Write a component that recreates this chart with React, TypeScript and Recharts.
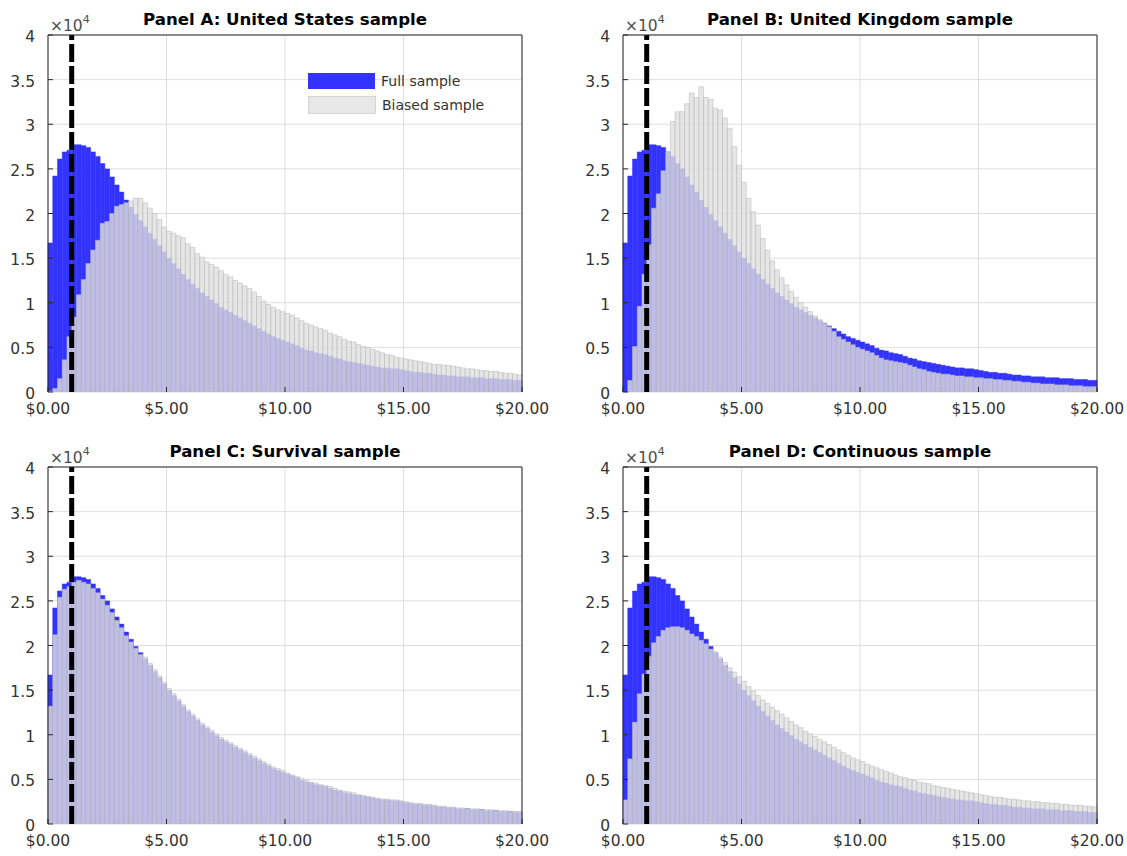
import React from "react";
import { BarChart, Bar, XAxis, YAxis, CartesianGrid, ReferenceLine } from "recharts";

// Histogram counts, in units of 10^4 (the axis multiplier drawn top-left).
// 100 bins of $0.20 from $0.00 to $20.00.
const BIN_COUNT = 100;
const BIN_WIDTH = 0.2;
const BIN_START = Array.from({ length: BIN_COUNT }, (_, i) => Number((i * BIN_WIDTH).toFixed(1)));

const FULL_SAMPLE = [
  1.67, 2.42, 2.61, 2.69, 2.71, 2.77, 2.77, 2.76, 2.74, 2.69,
  2.64, 2.56, 2.5, 2.41, 2.32, 2.24, 2.15, 2.07, 1.99, 1.92,
  1.85, 1.78, 1.71, 1.64, 1.57, 1.5, 1.44, 1.38, 1.32, 1.26,
  1.21, 1.16, 1.11, 1.07, 1.03, 0.99, 0.95, 0.92, 0.89, 0.86,
  0.83, 0.8, 0.77, 0.74, 0.71, 0.68, 0.65, 0.62, 0.6, 0.58,
  0.56, 0.54, 0.52, 0.49, 0.47, 0.46, 0.44, 0.43, 0.42, 0.4,
  0.38, 0.37, 0.35, 0.34, 0.33, 0.32, 0.31, 0.3, 0.29, 0.28,
  0.27, 0.27, 0.26, 0.26, 0.25, 0.24, 0.23, 0.22, 0.22, 0.21,
  0.21, 0.2, 0.19, 0.19, 0.18, 0.18, 0.17, 0.17, 0.17, 0.16,
  0.16, 0.16, 0.15, 0.15, 0.15, 0.14, 0.14, 0.14, 0.13, 0.13,
];

const BIASED_US = [
  0.01, 0.04, 0.15, 0.36, 0.62, 0.84, 1.09, 1.26, 1.44, 1.59,
  1.7, 1.89, 1.91, 2.0, 2.08, 2.1, 2.12, 2.14, 2.17, 2.17,
  2.12, 2.06, 2.0, 1.93, 1.85, 1.8, 1.78, 1.75, 1.73, 1.66,
  1.62, 1.55, 1.51, 1.46, 1.43, 1.4, 1.36, 1.32, 1.29, 1.25,
  1.22, 1.19, 1.16, 1.12, 1.07, 1.02, 0.98, 0.95, 0.92, 0.9,
  0.88, 0.86, 0.83, 0.8, 0.77, 0.75, 0.73, 0.71, 0.69, 0.66,
  0.64, 0.62, 0.59, 0.57, 0.56, 0.53, 0.51, 0.5, 0.48, 0.46,
  0.44, 0.42, 0.41, 0.39, 0.38, 0.37, 0.36, 0.35, 0.34, 0.33,
  0.32, 0.31, 0.31, 0.3, 0.3, 0.29, 0.28, 0.27, 0.26, 0.26,
  0.25, 0.24, 0.24, 0.23, 0.23, 0.22, 0.21, 0.21, 0.2, 0.19,
];

const BIASED_UK = [
  0.0, 0.13, 0.51, 0.96, 1.32, 1.65, 2.06, 2.22, 2.48, 2.69,
  3.03, 3.14, 3.14, 3.23, 3.35, 3.3, 3.42, 3.3, 3.28, 3.18,
  3.16, 3.07, 2.95, 2.75, 2.54, 2.35, 2.17, 2.02, 1.87, 1.72,
  1.59, 1.47, 1.37, 1.28, 1.2, 1.13, 1.06, 1.0, 0.95, 0.9,
  0.85, 0.81, 0.77, 0.73, 0.68, 0.62, 0.59, 0.56, 0.53, 0.5,
  0.48, 0.46, 0.44, 0.41, 0.38, 0.36, 0.35, 0.34, 0.33, 0.32,
  0.3, 0.28, 0.26, 0.25, 0.23, 0.22, 0.21, 0.2, 0.2, 0.19,
  0.18, 0.18, 0.17, 0.17, 0.16, 0.16, 0.15, 0.15, 0.14, 0.14,
  0.13, 0.13, 0.12, 0.12, 0.11, 0.11, 0.1, 0.1, 0.09, 0.09,
  0.09, 0.08, 0.08, 0.08, 0.07, 0.07, 0.07, 0.06, 0.06, 0.06,
];

const BIASED_SURVIVAL = [
  1.32, 2.12, 2.54, 2.63, 2.66, 2.71, 2.73, 2.71, 2.69, 2.64,
  2.59, 2.52, 2.45, 2.37, 2.28, 2.2, 2.11, 2.04, 1.97, 1.9,
  1.87, 1.8, 1.73, 1.66, 1.59, 1.52, 1.46, 1.4, 1.34, 1.28,
  1.23, 1.18, 1.13, 1.09, 1.05, 1.01, 0.97, 0.94, 0.91, 0.88,
  0.85, 0.82, 0.79, 0.76, 0.73, 0.7, 0.67, 0.64, 0.62, 0.6,
  0.57, 0.55, 0.53, 0.51, 0.49, 0.47, 0.46, 0.44, 0.43, 0.42,
  0.4, 0.38, 0.37, 0.36, 0.35, 0.33, 0.32, 0.31, 0.3, 0.29,
  0.28, 0.28, 0.27, 0.27, 0.26, 0.25, 0.24, 0.23, 0.23, 0.22,
  0.22, 0.21, 0.2, 0.2, 0.19, 0.19, 0.18, 0.18, 0.17, 0.17,
  0.17, 0.16, 0.16, 0.16, 0.15, 0.15, 0.15, 0.14, 0.14, 0.14,
];

const BIASED_CONTINUOUS = [
  0.27, 0.73, 1.14, 1.46, 1.68, 1.88, 2.03, 2.1, 2.17, 2.2,
  2.21, 2.21, 2.2, 2.17, 2.13, 2.1, 2.06, 2.02, 1.96, 1.93,
  1.87, 1.81, 1.75, 1.7, 1.65, 1.6, 1.54, 1.49, 1.44, 1.39,
  1.35, 1.31, 1.27, 1.23, 1.19, 1.15, 1.11, 1.08, 1.04, 1.01,
  0.98, 0.95, 0.92, 0.89, 0.86, 0.83, 0.8, 0.77, 0.74, 0.72,
  0.7, 0.67, 0.65, 0.63, 0.61, 0.59, 0.57, 0.55, 0.53, 0.52,
  0.5, 0.49, 0.47, 0.46, 0.45, 0.43, 0.42, 0.41, 0.4, 0.39,
  0.38, 0.37, 0.36, 0.35, 0.34, 0.33, 0.32, 0.31, 0.3, 0.3,
  0.29, 0.28, 0.28, 0.27, 0.26, 0.26, 0.25, 0.25, 0.24, 0.24,
  0.23, 0.23, 0.22, 0.22, 0.21, 0.21, 0.21, 0.2, 0.2, 0.19,
];

const Y_TICKS = [0, 0.5, 1, 1.5, 2, 2.5, 3, 3.5, 4];
const X_TICKS = [0, 5, 10, 15, 20];
const PRICE_LINE = 1;

const FULL_NAME = "Full sample";
const BIASED_NAME = "Biased sample";

const PANELS = [
  { title: "Panel A: United States sample", biased: BIASED_US, legend: true },
  { title: "Panel B: United Kingdom sample", biased: BIASED_UK, legend: false },
  { title: "Panel C: Survival sample", biased: BIASED_SURVIVAL, legend: false },
  { title: "Panel D: Continuous sample", biased: BIASED_CONTINUOUS, legend: false },
];

// layout
const CHART_W = 560;
const CHART_H = 430;
const PLOT_LEFT = 48;
const PLOT_W = 474;
const PLOT_TOP = 35;
const PLOT_H = 357;
const PLOT_BOTTOM = PLOT_TOP + PLOT_H;
const COL_STEP = 575;
const ROW_STEP = 432;

const FONT = "'DejaVu Sans', sans-serif";
const AXIS = "#262626";
const TEXT = "#333333";
const GRID = "#dedede";
const BLUE = "#3333ff";
const GRAY = "#e0e0e0";
const EDGE = "#b4b4b4";

function YTick({ y, payload }: any) {
  return (
    <g>
      <line x1={PLOT_LEFT} x2={PLOT_LEFT + 5} y1={y} y2={y} stroke={AXIS} />
      <text x={PLOT_LEFT - 13} y={y + 7} textAnchor="end" fontSize={15.5} fontFamily={FONT} fill={TEXT}>
        {String(payload.value)}
      </text>
    </g>
  );
}

function XTick({ x, payload }: any) {
  return (
    <g>
      <line x1={x} x2={x} y1={PLOT_BOTTOM} y2={PLOT_BOTTOM - 5} stroke={AXIS} />
      <text x={x} y={PLOT_BOTTOM + 21.5} textAnchor="middle" fontSize={15.5} fontFamily={FONT} fill={TEXT}>
        {"$" + Number(payload.value).toFixed(2)}
      </text>
    </g>
  );
}

function Panel({ title, biased, legend, left, top }: any) {
  const rows = BIN_START.map((b, i) => ({ bin: b, full: FULL_SAMPLE[i], biased: biased[i] }));
  return (
    <div style={{ position: "absolute", left, top, width: CHART_W, height: CHART_H }}>
      <BarChart
        width={CHART_W}
        height={CHART_H}
        data={rows}
        margin={{ top: PLOT_TOP, right: CHART_W - PLOT_LEFT - PLOT_W, bottom: CHART_H - PLOT_BOTTOM - 30, left: 0 }}
        barCategoryGap={0}
        barGap={0}
      >
        <CartesianGrid xAxisId="num" yAxisId="left" stroke={GRID} />
        <XAxis xAxisId="full" dataKey="bin" hide />
        <XAxis xAxisId="biased" dataKey="bin" hide />
        <Bar
          xAxisId="full"
          yAxisId="left"
          dataKey="full"
          name={FULL_NAME}
          fill={BLUE}
          stroke={BLUE}
          strokeWidth={0.5}
          barSize={4.73}
          isAnimationActive={false}
        />
        <Bar
          xAxisId="biased"
          yAxisId="left"
          dataKey="biased"
          name={BIASED_NAME}
          fill={GRAY}
          fillOpacity={0.8}
          stroke={EDGE}
          strokeOpacity={0.8}
          strokeWidth={0.6}
          barSize={4.73}
          isAnimationActive={false}
        />
        <ReferenceLine
          x={PRICE_LINE}
          xAxisId="num"
          yAxisId="left"
          stroke="#000"
          strokeWidth={5}
          strokeDasharray="18 4"
        />
        <XAxis
          xAxisId="num"
          dataKey="bin"
          type="number"
          domain={[0, 20]}
          ticks={X_TICKS}
          interval={0}
          allowDataOverflow
          height={30}
          tickSize={0}
          tickMargin={10}
          tick={<XTick />}
          tickLine={false}
          axisLine={{ stroke: AXIS }}
        />
        <XAxis
          xAxisId="top"
          dataKey="bin"
          orientation="top"
          mirror
          type="number"
          domain={[0, 20]}
          ticks={X_TICKS}
          interval={0}
          allowDataOverflow
          tick={false}
          tickSize={5}
          tickLine={{ stroke: AXIS }}
          axisLine={{ stroke: AXIS }}
        />
        <YAxis
          yAxisId="left"
          domain={[0, 4]}
          ticks={Y_TICKS}
          interval={0}
          allowDataOverflow
          width={PLOT_LEFT}
          tickSize={0}
          tickMargin={13}
          tick={<YTick />}
          tickLine={false}
          axisLine={{ stroke: AXIS }}
        />
        <YAxis
          yAxisId="right"
          dataKey="full"
          orientation="right"
          mirror
          domain={[0, 4]}
          ticks={Y_TICKS}
          interval={0}
          allowDataOverflow
          tick={false}
          tickSize={5}
          tickLine={{ stroke: AXIS }}
          axisLine={{ stroke: AXIS }}
        />
      </BarChart>

      <svg
        width={CHART_W}
        height={PLOT_TOP}
        style={{ position: "absolute", left: 0, top: 0, pointerEvents: "none" }}
      >
        <text
          x={PLOT_LEFT + PLOT_W / 2}
          y={25}
          textAnchor="middle"
          fontSize={16.6}
          fontWeight="bold"
          fontFamily={FONT}
          fill="#000"
        >
          {title}
        </text>
        <text x={PLOT_LEFT + 2} y={30.5} fontSize={15.5} fontFamily={FONT} fill="#4d4d4d">
          ×10
          <tspan dy={-8} fontSize={11}>4</tspan>
        </text>
      </svg>

      {legend && (
        <div style={{ position: "absolute", left: 308, top: 73, fontFamily: FONT, fontSize: 14, color: TEXT }}>
          <div style={{ display: "flex", alignItems: "center", height: 16, marginBottom: 7 }}>
            <span style={{ width: 67, height: 16, background: BLUE, display: "inline-block" }} />
            <span style={{ marginLeft: 6, lineHeight: "16px" }}>{FULL_NAME}</span>
          </div>
          <div style={{ display: "flex", alignItems: "center", height: 17 }}>
            <span
              style={{
                width: 66,
                height: 16,
                background: "#e8e8e8",
                border: "1px solid #d4d4d4",
                display: "inline-block",
              }}
            />
            <span style={{ marginLeft: 6, lineHeight: "16px" }}>{BIASED_NAME}</span>
          </div>
        </div>
      )}
    </div>
  );
}

export default function App() {
  return (
    <div
      style={{
        position: "absolute",
        left: 0,
        top: 0,
        width: 1127,
        height: 856,
        background: "#fff",
        overflow: "hidden",
      }}
    >
      {PANELS.map((p, i) => (
        <Panel
          key={p.title}
          title={p.title}
          biased={p.biased}
          legend={p.legend}
          left={(i % 2) * COL_STEP}
          top={Math.floor(i / 2) * ROW_STEP}
        />
      ))}
    </div>
  );
}
